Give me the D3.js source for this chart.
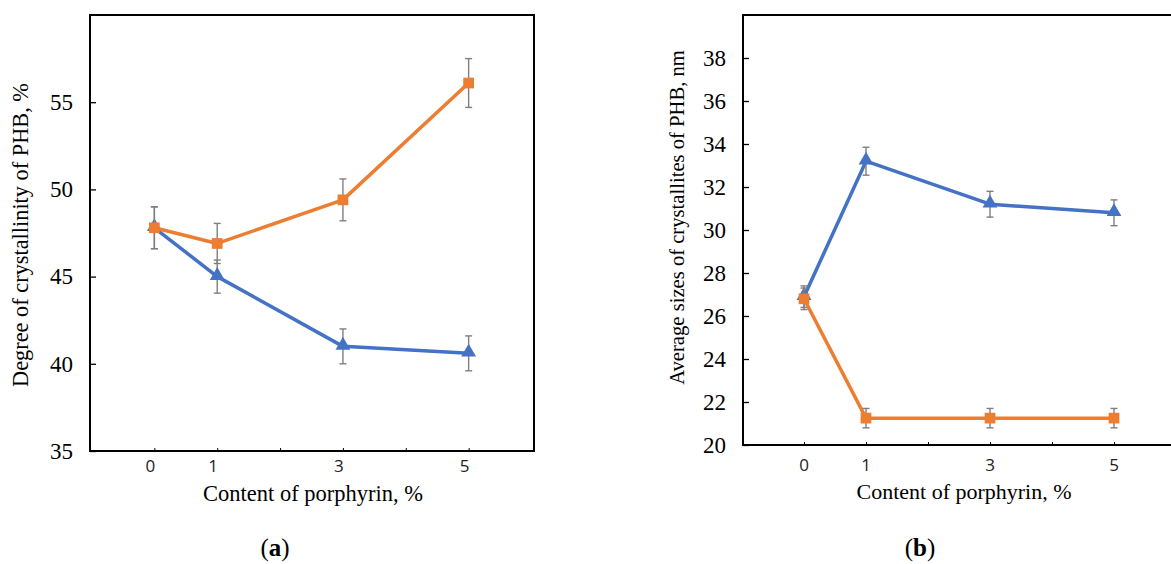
<!DOCTYPE html>
<html>
<head>
<meta charset="utf-8">
<script src="https://cdn.jsdelivr.net/npm/d3@7/dist/d3.min.js"></script>
<style>
  html, body { margin: 0; padding: 0; background: #fff; }
  svg { display: block; }
</style>
</head>
<body>
<svg id="chart" width="1171" height="564"></svg>
<script>
// ---- Data ----
const contentValues = [0, 1, 3, 5];
const xTickValues = [0, 1, 2, 3, 4, 5];
const xTickLabels = ["0", "1", "3", "5"];

// Panel (a): degree of crystallinity, %
const crystOrange = [47.8, 46.9, 49.4, 56.1];
const crystOrangeErr = [1.2, 1.15, 1.2, 1.4];
const crystBlue = [47.8, 45.0, 41.0, 40.6];
const crystBlueErr = [1.2, 0.95, 1.0, 1.0];
const yTicksA = [35, 40, 45, 50, 55];

// Panel (b): average crystallite size, nm
const sizeBlue = [26.9, 33.2, 31.2, 30.8];
const sizeBlueErr = [0.5, 0.65, 0.6, 0.6];
const sizeOrange = [26.8, 21.25, 21.25, 21.25];
const sizeOrangeErr = [0.5, 0.45, 0.45, 0.45];
const yTicksB = [20, 22, 24, 26, 28, 30, 32, 34, 36, 38];

const ORANGE = "#ED7D31";
const BLUE = "#4472C4";
const ERRC = "#7F7F7F";

const svg = d3.select("#chart");

function fitText(sel, target) {
  const node = sel.node();
  const len = node.getComputedTextLength();
  const fs = parseFloat(sel.attr("font-size"));
  if (len > 0) sel.attr("font-size", (fs * target / len).toFixed(2));
}

function drawPanel(cfg) {
  const g = svg.append("g");
  const x = d3.scaleLinear().domain([-1, 6]).range(cfg.xRange);
  const y = d3.scaleLinear().domain(cfg.yDomain).range([cfg.frame.bottom, cfg.frame.top]);

  // frame
  g.append("rect")
    .attr("x", cfg.frame.left).attr("y", cfg.frame.top)
    .attr("width", cfg.frame.right - cfg.frame.left)
    .attr("height", cfg.frame.bottom - cfg.frame.top)
    .attr("fill", "none").attr("stroke", "#000").attr("stroke-width", 2);

  // y axis (inward ticks)
  const yAxis = d3.axisRight(y).tickValues(cfg.yTicks).tickSize(6).tickFormat("");
  const ya = g.append("g").attr("transform", `translate(${cfg.frame.left},0)`).call(yAxis);
  ya.select(".domain").remove();
  ya.selectAll(".tick line").attr("stroke", "#000").attr("stroke-width", 1.3);
  g.selectAll(".ytl").data(cfg.yTicks).enter().append("text")
    .attr("x", cfg.yLabelX).attr("y", d => y(d))
    .attr("dy", "0.34em")
    .attr("text-anchor", "end")
    .attr("font-family", "'Liberation Serif', 'Times New Roman', serif")
    .attr("font-size", 23).attr("fill", "#000")
    .text(d => d);

  // x axis (inward ticks)
  const xAxis = d3.axisTop(x).tickValues(xTickValues).tickSize(3).tickFormat("");
  const xa = g.append("g").attr("transform", `translate(0,${cfg.frame.bottom})`).call(xAxis);
  xa.select(".domain").remove();
  xa.selectAll(".tick line").attr("stroke", "#000").attr("stroke-width", 1);
  g.selectAll(".xtl").data(contentValues).enter().append("text")
    .attr("x", d => x(d) + cfg.xLabelShift).attr("y", cfg.xLabelY)
    .attr("text-anchor", "middle")
    .attr("font-family", "'Open Sans', 'DejaVu Sans', sans-serif")
    .attr("font-size", 17).attr("fill", "#222")
    .text((d, i) => xTickLabels[i]);

  // series
  cfg.series.forEach(s => {
    const pts = contentValues.map((c, i) => ({ c, v: s.values[i], e: s.err[i] }));
    // line
    g.append("path")
      .datum(pts)
      .attr("fill", "none").attr("stroke", s.color).attr("stroke-width", 3.5)
      .attr("stroke-linejoin", "round")
      .attr("d", d3.line().x(d => x(d.c)).y(d => y(d.v)));
    // error bars
    const eb = g.append("g").attr("stroke", ERRC).attr("stroke-width", 1.4);
    pts.forEach(d => {
      eb.append("line").attr("x1", x(d.c)).attr("x2", x(d.c))
        .attr("y1", y(d.v - d.e)).attr("y2", y(d.v + d.e));
      [d.v - d.e, d.v + d.e].forEach(v => {
        eb.append("line").attr("x1", x(d.c) - 3.5).attr("x2", x(d.c) + 3.5)
          .attr("y1", y(v)).attr("y2", y(v));
      });
    });
    // markers
    const sym = d3.symbol().type(s.shape === "square" ? d3.symbolSquare : d3.symbolTriangle)
      .size(s.shape === "square" ? 115 : 95);
    g.selectAll(null).data(pts).enter().append("path")
      .attr("d", sym)
      .attr("transform", d => `translate(${x(d.c)},${y(d.v) + (s.shape === "square" ? 0 : -1)})`)
      .attr("fill", s.color);
  });

  // axis titles
  const yt = g.append("text")
    .attr("transform", `translate(${cfg.yTitle.x},${cfg.yTitle.y}) rotate(-90)`)
    .attr("text-anchor", "middle")
    .attr("dy", "0.35em")
    .attr("font-family", "'Liberation Serif', 'Times New Roman', serif")
    .attr("font-size", 20).attr("fill", "#000")
    .text(cfg.yTitle.text);
  fitText(yt, cfg.yTitle.len);

  const xt = g.append("text")
    .attr("x", cfg.xTitle.x).attr("y", cfg.xTitle.y)
    .attr("text-anchor", "middle")
    .attr("font-family", "'Liberation Serif', 'Times New Roman', serif")
    .attr("font-size", 20).attr("fill", "#000")
    .text(cfg.xTitle.text);
  fitText(xt, cfg.xTitle.len);

  const cap = g.append("text")
    .attr("x", cfg.caption.x).attr("y", cfg.caption.y)
    .attr("text-anchor", "middle")
    .attr("font-family", "'Liberation Serif', 'Times New Roman', serif")
    .attr("font-size", 25).attr("fill", "#000");
  cap.append("tspan").text("(");
  cap.append("tspan").attr("font-weight", "bold").text(cfg.caption.letter);
  cap.append("tspan").text(")");
}

drawPanel({
  frame: { left: 90, right: 534, top: 15, bottom: 451 },
  xRange: [91.5, 531.5],
  yDomain: [35, 60],
  yTicks: yTicksA,
  yLabelX: 73,
  xLabelY: 472,
  xLabelShift: -4,
  series: [
    { values: crystBlue, err: crystBlueErr, color: BLUE, shape: "triangle" },
    { values: crystOrange, err: crystOrangeErr, color: ORANGE, shape: "square" }
  ],
  yTitle: { x: 20, y: 235, len: 304, text: "Degree of crystallinity of PHB, %" },
  xTitle: { x: 313, y: 501, len: 220, text: "Content of porphyrin, %" },
  caption: { x: 275, y: 556, letter: "a" }
});

drawPanel({
  frame: { left: 743, right: 1176, top: 15, bottom: 445 },
  xRange: [742, 1176],
  yDomain: [20, 40],
  yTicks: yTicksB,
  yLabelX: 726,
  xLabelY: 471,
  xLabelShift: 0,
  series: [
    { values: sizeBlue, err: sizeBlueErr, color: BLUE, shape: "triangle" },
    { values: sizeOrange, err: sizeOrangeErr, color: ORANGE, shape: "square" }
  ],
  yTitle: { x: 677, y: 217.5, len: 335, text: "Average sizes of crystallites of PHB, nm" },
  xTitle: { x: 964, y: 499, len: 215, text: "Content of porphyrin, %" },
  caption: { x: 920, y: 556, letter: "b" }
});
</script>
</body>
</html>
